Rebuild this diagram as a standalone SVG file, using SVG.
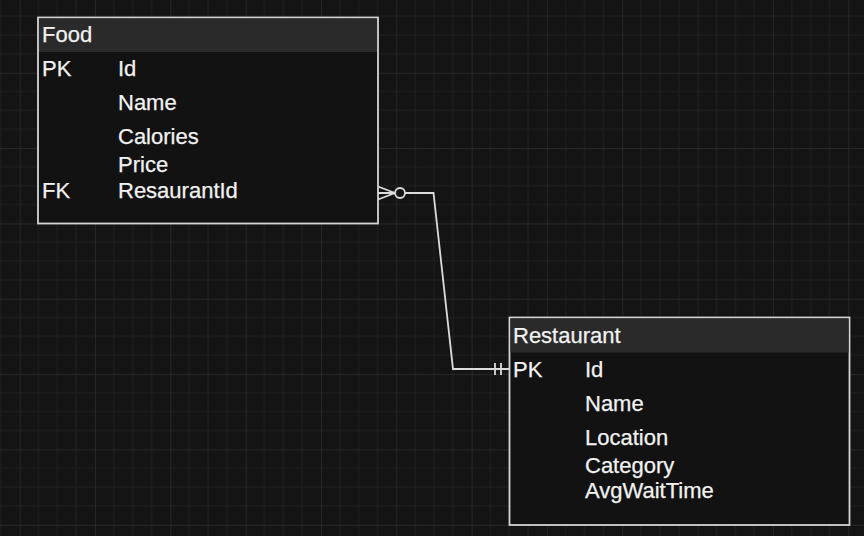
<svg xmlns="http://www.w3.org/2000/svg" width="864" height="536" viewBox="0 0 864 536">
  <defs>
    <pattern id="grid" x="19.67" y="-2.6" width="75.33" height="75.33" patternUnits="userSpaceOnUse">
      <path d="M18.83 0V75.33M37.67 0V75.33M56.5 0V75.33M0 18.83H75.33M0 37.67H75.33M0 56.5H75.33" stroke="#202020" stroke-width="1" fill="none"/>
      <path d="M0 0V75.33M0 0H75.33" stroke="#2e2e2e" stroke-width="1.3" fill="none"/>
    </pattern>
    <style>
      .box { fill: #121212; stroke: #d4d4d4; stroke-width: 1.8; }
      .hdr { fill: #2a2a2a; }
      .t { font-family: "Liberation Sans", Arial, sans-serif; font-size: 22px; fill: #f2f2f2; stroke: #f2f2f2; stroke-width: 0.25; }
      .conn { fill: none; stroke: #dcdcdc; stroke-width: 1.8; }
    </style>
  </defs>
  <rect width="864" height="536" fill="#141414"/>
  <rect width="864" height="536" fill="url(#grid)"/>

  <g id="food">
    <rect class="box" x="38" y="17.5" width="340" height="206"/>
    <rect class="hdr" x="39" y="18.5" width="338" height="33.5"/>
    <text class="t" x="42" y="42">Food</text>
    <text class="t" x="42" y="76">PK</text>
    <text class="t" x="118" y="76">Id</text>
    <text class="t" x="118" y="110">Name</text>
    <text class="t" x="118" y="144">Calories</text>
    <text class="t" x="118" y="171.5">Price</text>
    <text class="t" x="42" y="198">FK</text>
    <text class="t" x="118" y="198">ResaurantId</text>
  </g>

  <g id="restaurant">
    <rect class="box" x="509.5" y="317.5" width="340" height="207.5"/>
    <rect class="hdr" x="510.5" y="318.5" width="338" height="34"/>
    <text class="t" x="513" y="342.5">Restaurant</text>
    <text class="t" x="513" y="376.5">PK</text>
    <text class="t" x="585" y="376.5">Id</text>
    <text class="t" x="585" y="410.5">Name</text>
    <text class="t" x="585" y="444.5">Location</text>
    <text class="t" x="585" y="472.5">Category</text>
    <text class="t" x="585" y="498">AvgWaitTime</text>
  </g>

  <g id="connectors">
    <path class="conn" d="M378 193H395M378 186.5L395 193M378 199.5L395 193"/>
    <circle class="conn" cx="400" cy="193" r="5"/>
    <path class="conn" d="M405 193H433.5L453 369H509"/>
    <path class="conn" d="M495 363V375M501 363V375"/>
  </g>
</svg>
